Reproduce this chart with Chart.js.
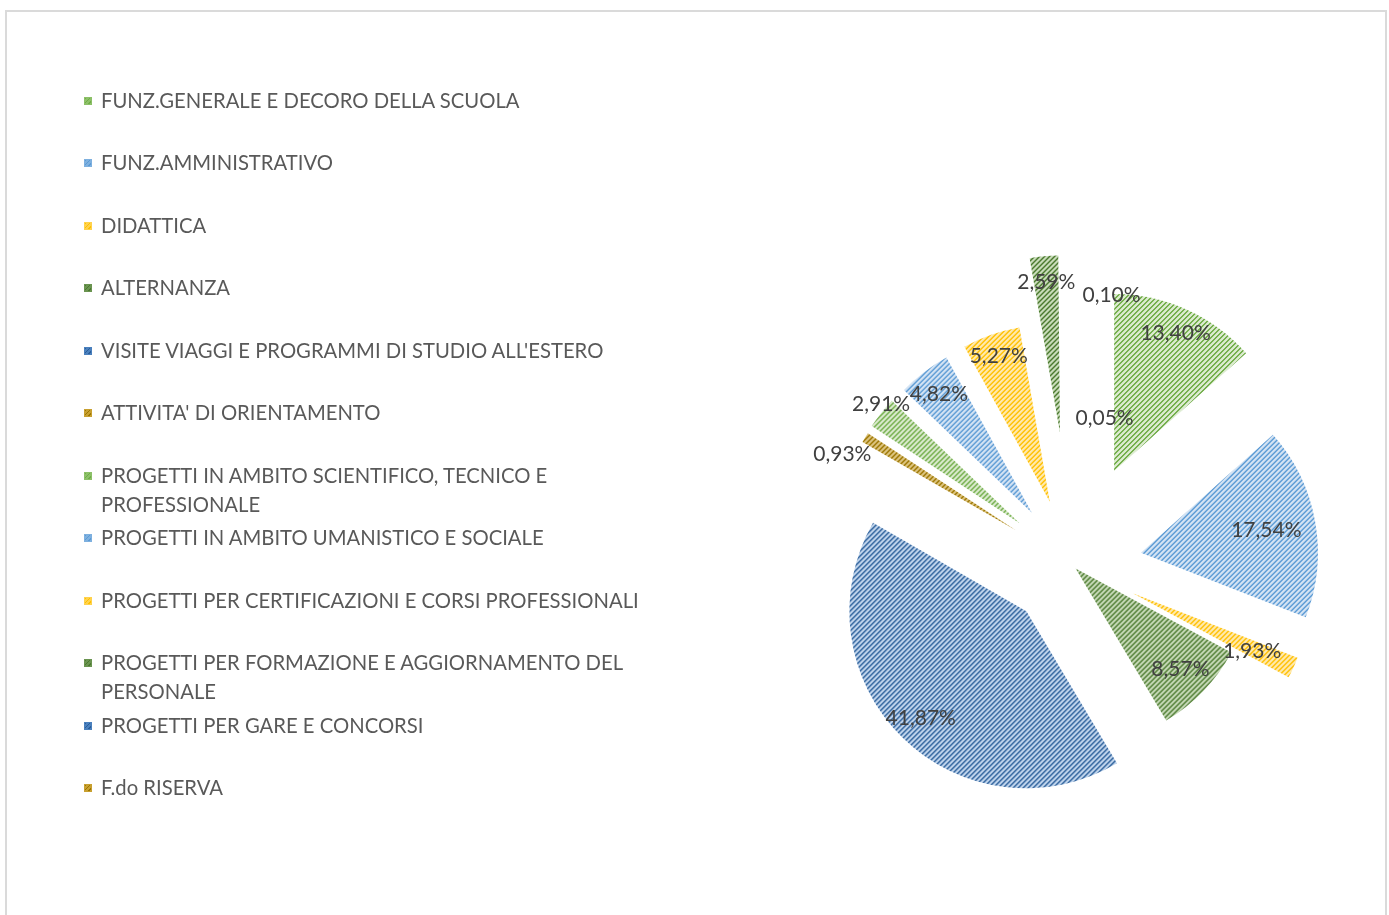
<!DOCTYPE html>
<html><head><meta charset="utf-8">
<script src="https://cdn.jsdelivr.net/npm/chart.js@4.4.1/dist/chart.umd.min.js"></script>
<style>
html,body{margin:0;padding:0;background:#fff;width:1389px;height:915px;overflow:hidden;}
#frame{position:absolute;left:5px;top:10px;width:1382px;height:940px;border:2px solid #dadada;box-sizing:border-box;}
#c{position:absolute;left:0;top:0;}
#legend{position:absolute;left:84px;top:0;font-family:Lato,"Open Sans",sans-serif;font-size:20.25px;color:#595959;}
.item{position:absolute;left:0;display:flex;align-items:flex-start;white-space:normal;}
.sw{width:8px;height:8px;margin-top:11px;margin-right:9px;flex:none;box-sizing:border-box;}
.tx{width:575px;line-height:29px;}
</style>
</head><body>
<div id="frame"></div>
<canvas id="c" width="1389" height="915"></canvas>
<div id="legend"></div>
<script>
// ---- data ----
const categories = [
  "FUNZ.GENERALE E DECORO DELLA SCUOLA",
  "FUNZ.AMMINISTRATIVO",
  "DIDATTICA",
  "ALTERNANZA",
  "VISITE VIAGGI E PROGRAMMI DI STUDIO ALL'ESTERO",
  "ATTIVITA' DI ORIENTAMENTO",
  "PROGETTI IN AMBITO SCIENTIFICO, TECNICO E PROFESSIONALE",
  "PROGETTI IN AMBITO UMANISTICO E SOCIALE",
  "PROGETTI PER CERTIFICAZIONI E CORSI PROFESSIONALI",
  "PROGETTI PER FORMAZIONE E AGGIORNAMENTO DEL PERSONALE",
  "PROGETTI PER GARE E CONCORSI",
  "F.do RISERVA"
];
const percentValues = [13.40, 17.54, 1.93, 8.57, 41.87, 0.93, 2.91, 4.82, 5.27, 2.59, 0.10, 0.05];

// ---- styles ----
const palette = [
  {bg:'#dcebd0', fg:'#70ad47', sw:'#8cc068'},
  {bg:'#d5e4f4', fg:'#5b9bd5', sw:'#7eb0df'},
  {bg:'#ffeab0', fg:'#ffc000', sw:'#ffd24d'},
  {bg:'#c8dbb9', fg:'#4b7a2f', sw:'#6a9450'},
  {bg:'#c3d7ee', fg:'#2a5e9a', sw:'#4a80bd'},
  {bg:'#dcc480', fg:'#9c7600', sw:'#c8a030'}
];
const sliceExplode = [103, 70, 67, 5, 65, 66, 67, 66, 67, 133, 0, 0];
const labelDist = [0.85, 0.72, 0.75, 0.82, 0.85, 1.07, 1.03, 0.85, 0.87, 0.85, 1.54, 0.85];
const labelTurn = [0, 0, 1, 0, 0, -8, 2, -0.6, 0, 0, 8.7, 12.6];

function makePattern(c) {
  const s = 5;
  const t = document.createElement('canvas');
  t.width = s; t.height = s;
  const g = t.getContext('2d');
  g.fillStyle = c.bg; g.fillRect(0,0,s,s);
  g.fillStyle = c.fg;
  for (let y = 0; y < s; y++) {
    const x = ((s - 1 - y) % s + s) % s;
    g.fillRect(x, y, 1, 1);
    g.fillRect((x + 1) % s, y, 1, 1);
  }
  return g.createPattern(t, 'repeat');
}
const colorFor = i => palette[i % palette.length];
// hair-thin slices (< 0.5% of the circle) are practically invisible in the original
const fills = categories.map((_, i) => percentValues[i] < 0.5 ? 'rgba(255,255,255,0)' : makePattern(colorFor(i)));

// ---- legend (HTML) ----
const legend = document.getElementById('legend');
categories.forEach((name, i) => {
  const it = document.createElement('div');
  it.className = 'item';
  it.style.top = (101 - 15 + i * 62.45) + 'px';
  const sw = document.createElement('div');
  sw.className = 'sw';
  const c = colorFor(i);
  sw.style.background = `repeating-linear-gradient(135deg, ${c.fg} 0 1.2px, ${c.sw} 1.2px 3px)`;
  sw.style.border = `1px solid ${c.sw}`;
  const tx = document.createElement('div');
  tx.className = 'tx';
  tx.textContent = name;
  it.appendChild(sw); it.appendChild(tx);
  legend.appendChild(it);
});

// ---- plugins ----
const explodePlugin = {
  id: 'explodeSlices',
  beforeDatasetDraw(chart, args) {
    args.meta.data.forEach((arc, i) => {
      if (arc._exPatched) return;
      const orig = arc.draw;
      arc.draw = function(ctx, area) {
        const d = sliceExplode[i] || 0;
        const mid = (this.startAngle + this.endAngle) / 2;
        ctx.save();
        ctx.translate(Math.cos(mid) * d, Math.sin(mid) * d);
        orig.call(this, ctx, area);
        ctx.restore();
      };
      arc._exPatched = true;
    });
  }
};
const labelPlugin = {
  id: 'sliceLabels',
  afterDatasetsDraw(chart) {
    const ctx = chart.ctx;
    const meta = chart.getDatasetMeta(0);
    const vals = chart.data.datasets[0].data;
    ctx.save();
    ctx.font = '21px Lato, "Open Sans", sans-serif';
    ctx.fillStyle = '#404040';
    ctx.textAlign = 'center';
    ctx.textBaseline = 'middle';
    meta.data.forEach((arc, i) => {
      const mid = (arc.startAngle + arc.endAngle) / 2;
      const d = sliceExplode[i] || 0;
      const ax = arc.x + Math.cos(mid) * d;
      const ay = arc.y + Math.sin(mid) * d;
      const a = mid + labelTurn[i] * Math.PI / 180;
      const r = labelDist[i] * arc.outerRadius;
      const txt = vals[i].toFixed(2).replace('.', ',') + '%';
      ctx.fillText(txt, ax + Math.cos(a) * r, ay + Math.sin(a) * r);
    });
    ctx.restore();
  }
};

new Chart(document.getElementById('c'), {
  type: 'pie',
  data: {
    labels: categories,
    datasets: [{
      data: percentValues,
      backgroundColor: fills,
      borderWidth: 0,
      hoverOffset: 0
    }]
  },
  options: {
    responsive: false,
    animation: false,
    devicePixelRatio: 1,
    radius: 177,
    layout: { padding: { left: 755, right: 0, top: 215, bottom: 0 } },
    plugins: { legend: { display: false }, tooltip: { enabled: false } },
    events: []
  },
  plugins: [explodePlugin, labelPlugin]
});
</script>
</body></html>
